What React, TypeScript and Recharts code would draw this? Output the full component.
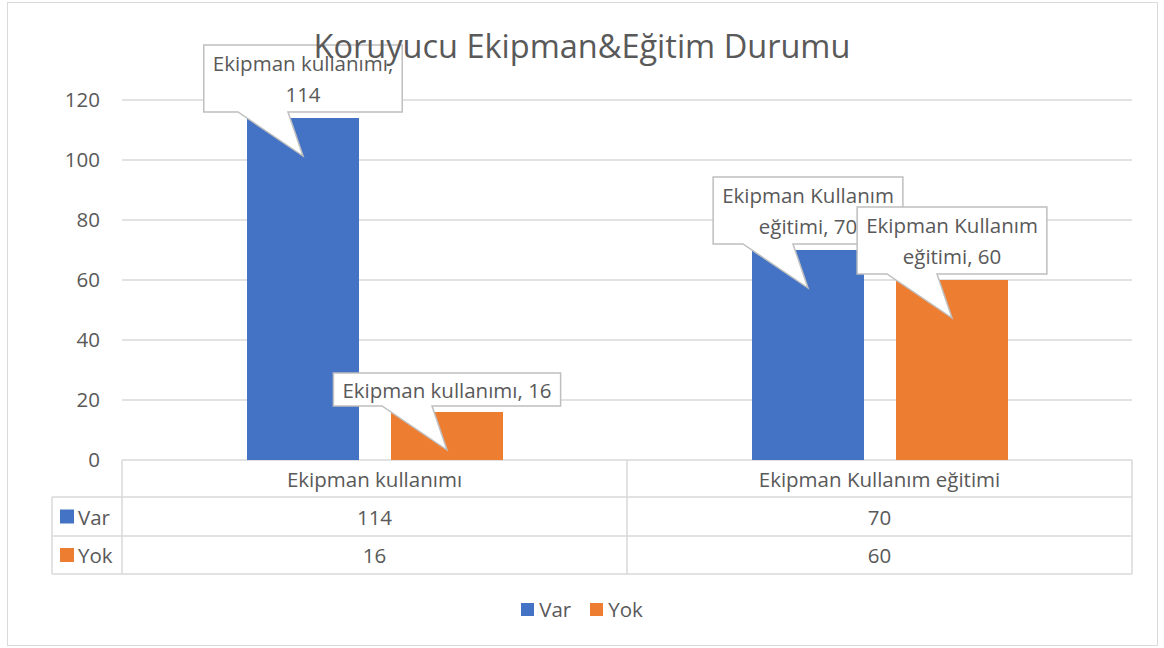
import React from "react"
import { Bar, BarChart, CartesianGrid, LabelList, Legend, XAxis, YAxis } from "recharts"

// chart values
const categories = ["Ekipman kullanımı", "Ekipman Kullanım eğitimi"]
const varValues = [114, 70]
const yokValues = [16, 60]
const seriesNames = ["Var", "Yok"]
const yTicks = [0, 20, 40, 60, 80, 100, 120]

const data = categories.map((name, i) => ({ name, Var: varValues[i], Yok: yokValues[i] }))

const FONT = "'Open Sans', 'Noto Sans', sans-serif"
const TEXT = "#595959"
const LINE = "#D9D9D9"
const COLORS: Record<string, string> = { Var: "#4472C4", Yok: "#ED7D31" }
const seriesValues: Record<string, number[]> = { Var: varValues, Yok: yokValues }

// max characters per callout line (Excel resized some labels by hand)
const wrapChars: Record<string, number[]> = { Var: [20, 18], Yok: [24, 18] }

const LABEL_SIZE = 20.5
const TICK_SIZE = 20.5

let ctx: CanvasRenderingContext2D | null = null
function measure(s: string) {
  if (!ctx) ctx = document.createElement("canvas").getContext("2d")
  if (!ctx) return s.length * 10
  ctx.font = `${LABEL_SIZE}px ${FONT}`
  return ctx.measureText(s).width
}

function wrap(text: string, max: number) {
  const words = text.split(" ")
  const lines: string[] = []
  let cur = ""
  for (const w of words) {
    const next = cur ? cur + " " + w : w
    if (next.length > max && cur) {
      lines.push(cur)
      cur = w
    } else cur = next
  }
  if (cur) lines.push(cur)
  return lines
}

function Callout(props: any) {
  const { x, y, width, value, index, series } = props
  const cx = x + width / 2
  const lines = wrap(`${categories[index]}, ${value}`, wrapChars[series][index])
  const w = Math.max(...lines.map(measure)) + 18
  const h = 33 + 34 * (lines.length - 1)
  const B = y - 6
  const T = B - h
  const L = cx - w / 2
  const R = cx + w / 2
  const tipY = y + 38
  const d = `M${L},${T} H${R} V${B} H${cx - 15} L${cx},${tipY} L${cx - 65},${B} H${L} Z`
  const first = T + (h - 31 * (lines.length - 1)) / 2
  return (
    <g>
      <path d={d} fill="#fff" stroke="#BFBFBF" strokeWidth={1.5} />
      {lines.map((ln, i) => (
        <text
          key={i}
          x={cx}
          y={first + i * 31}
          textAnchor="middle"
          dominantBaseline="central"
          fill={TEXT}
          fontSize={LABEL_SIZE}
          fontFamily={FONT}
        >
          {ln}
        </text>
      ))}
    </g>
  )
}

// x axis ticks draw the data table under the plot
function TableTick(props: any) {
  const { x, y, width, payload, index } = props
  const band = width / categories.length
  const left = x - band / 2
  const right = x + band / 2
  const rowH = [37, 39, 38]
  const r1 = y + rowH[0]
  const r2 = r1 + rowH[1]
  const r3 = r2 + rowH[2]
  const txt = { fill: TEXT, fontSize: TICK_SIZE, fontFamily: FONT, textAnchor: "middle" as const, dominantBaseline: "central" as const }
  return (
    <g>
      {index === 0 && (
        <g>
          <line x1={left} x2={left} y1={y} y2={r3} stroke={LINE} strokeWidth={1.5} />
          <line x1={52} x2={52} y1={r1} y2={r3} stroke={LINE} strokeWidth={1.5} />
          <line x1={52} x2={left} y1={r1} y2={r1} stroke={LINE} strokeWidth={1.5} />
          <line x1={52} x2={left} y1={r2} y2={r2} stroke={LINE} strokeWidth={1.5} />
          <line x1={52} x2={left} y1={r3} y2={r3} stroke={LINE} strokeWidth={1.5} />
          {seriesNames.map((s, i) => {
            const cy = i === 0 ? (r1 + r2) / 2 : (r2 + r3) / 2
            return (
              <g key={s}>
                <rect x={60} y={cy - 7} width={14} height={14} fill={COLORS[s]} />
                <text x={78} y={cy} fill={TEXT} fontSize={TICK_SIZE} fontFamily={FONT} dominantBaseline="central">
                  {s}
                </text>
              </g>
            )
          })}
        </g>
      )}
      <line x1={right} x2={right} y1={y} y2={r3} stroke={LINE} strokeWidth={1.5} />
      <line x1={left} x2={right} y1={r1} y2={r1} stroke={LINE} strokeWidth={1.5} />
      <line x1={left} x2={right} y1={r2} y2={r2} stroke={LINE} strokeWidth={1.5} />
      <line x1={left} x2={right} y1={r3} y2={r3} stroke={LINE} strokeWidth={1.5} />
      <text x={x} y={y + rowH[0] / 2} {...txt}>
        {payload.value}
      </text>
      <text x={x} y={(r1 + r2) / 2} {...txt}>
        {seriesValues.Var[index]}
      </text>
      <text x={x} y={(r2 + r3) / 2} {...txt}>
        {seriesValues.Yok[index]}
      </text>
    </g>
  )
}

function LegendContent(props: any) {
  const items = props.payload || []
  return (
    <div style={{ display: "flex", justifyContent: "center", gap: 19, fontFamily: FONT }}>
      {items.map((it: any) => (
        <div key={it.value} style={{ display: "flex", alignItems: "center", gap: 5 }}>
          <span style={{ width: 13, height: 13, background: it.color, display: "inline-block" }} />
          <span style={{ color: TEXT, fontSize: TICK_SIZE, lineHeight: "26px" }}>{it.value}</span>
        </div>
      ))}
    </div>
  )
}

export default function App() {
  return (
    <div style={{ position: "absolute", left: 0, top: 0, width: 1164, height: 648, background: "#fff" }}>
      <div
        style={{
          position: "absolute",
          left: 7,
          top: 2,
          width: 1149,
          height: 642,
          border: `1.5px solid ${LINE}`,
        }}
      />
      <BarChart
        width={1164}
        height={648}
        data={data}
        margin={{ top: 100, right: 32, left: 62, bottom: 8 }}
        barSize={112}
        barGap={32}
      >
        <CartesianGrid vertical={false} stroke={LINE} strokeWidth={1.5} />
        <XAxis
          dataKey="name"
          axisLine={false}
          tickLine={false}
          tickSize={0}
          tickMargin={0}
          height={180}
          interval={0}
          tick={(p: any) => <TableTick {...p} />}
        />
        <YAxis
          domain={[0, 120]}
          ticks={yTicks}
          axisLine={false}
          tickLine={false}
          tickSize={0}
          tickMargin={22}
          width={60}
          tick={{ fill: TEXT, fontSize: TICK_SIZE, fontFamily: FONT }}
        />
        <Legend
          verticalAlign="middle"
          align="center"
          layout="horizontal"
          wrapperStyle={{ left: 0, top: 596, width: 1164 }}
          content={(p: any) => <LegendContent {...p} />}
        />
        {seriesNames.map((s) => (
          <Bar key={s} dataKey={s} fill={COLORS[s]} isAnimationActive={false}>
            <LabelList dataKey={s} content={(p: any) => <Callout {...p} series={s} />} />
          </Bar>
        ))}
      </BarChart>
      <div
        style={{
          position: "absolute",
          left: 0,
          top: 26,
          width: 1164,
          textAlign: "center",
          fontFamily: FONT,
          fontSize: 32.5,
          lineHeight: "40px",
          color: TEXT,
          pointerEvents: "none",
        }}
      >
        Koruyucu Ekipman&amp;Eğitim Durumu
      </div>
    </div>
  )
}
